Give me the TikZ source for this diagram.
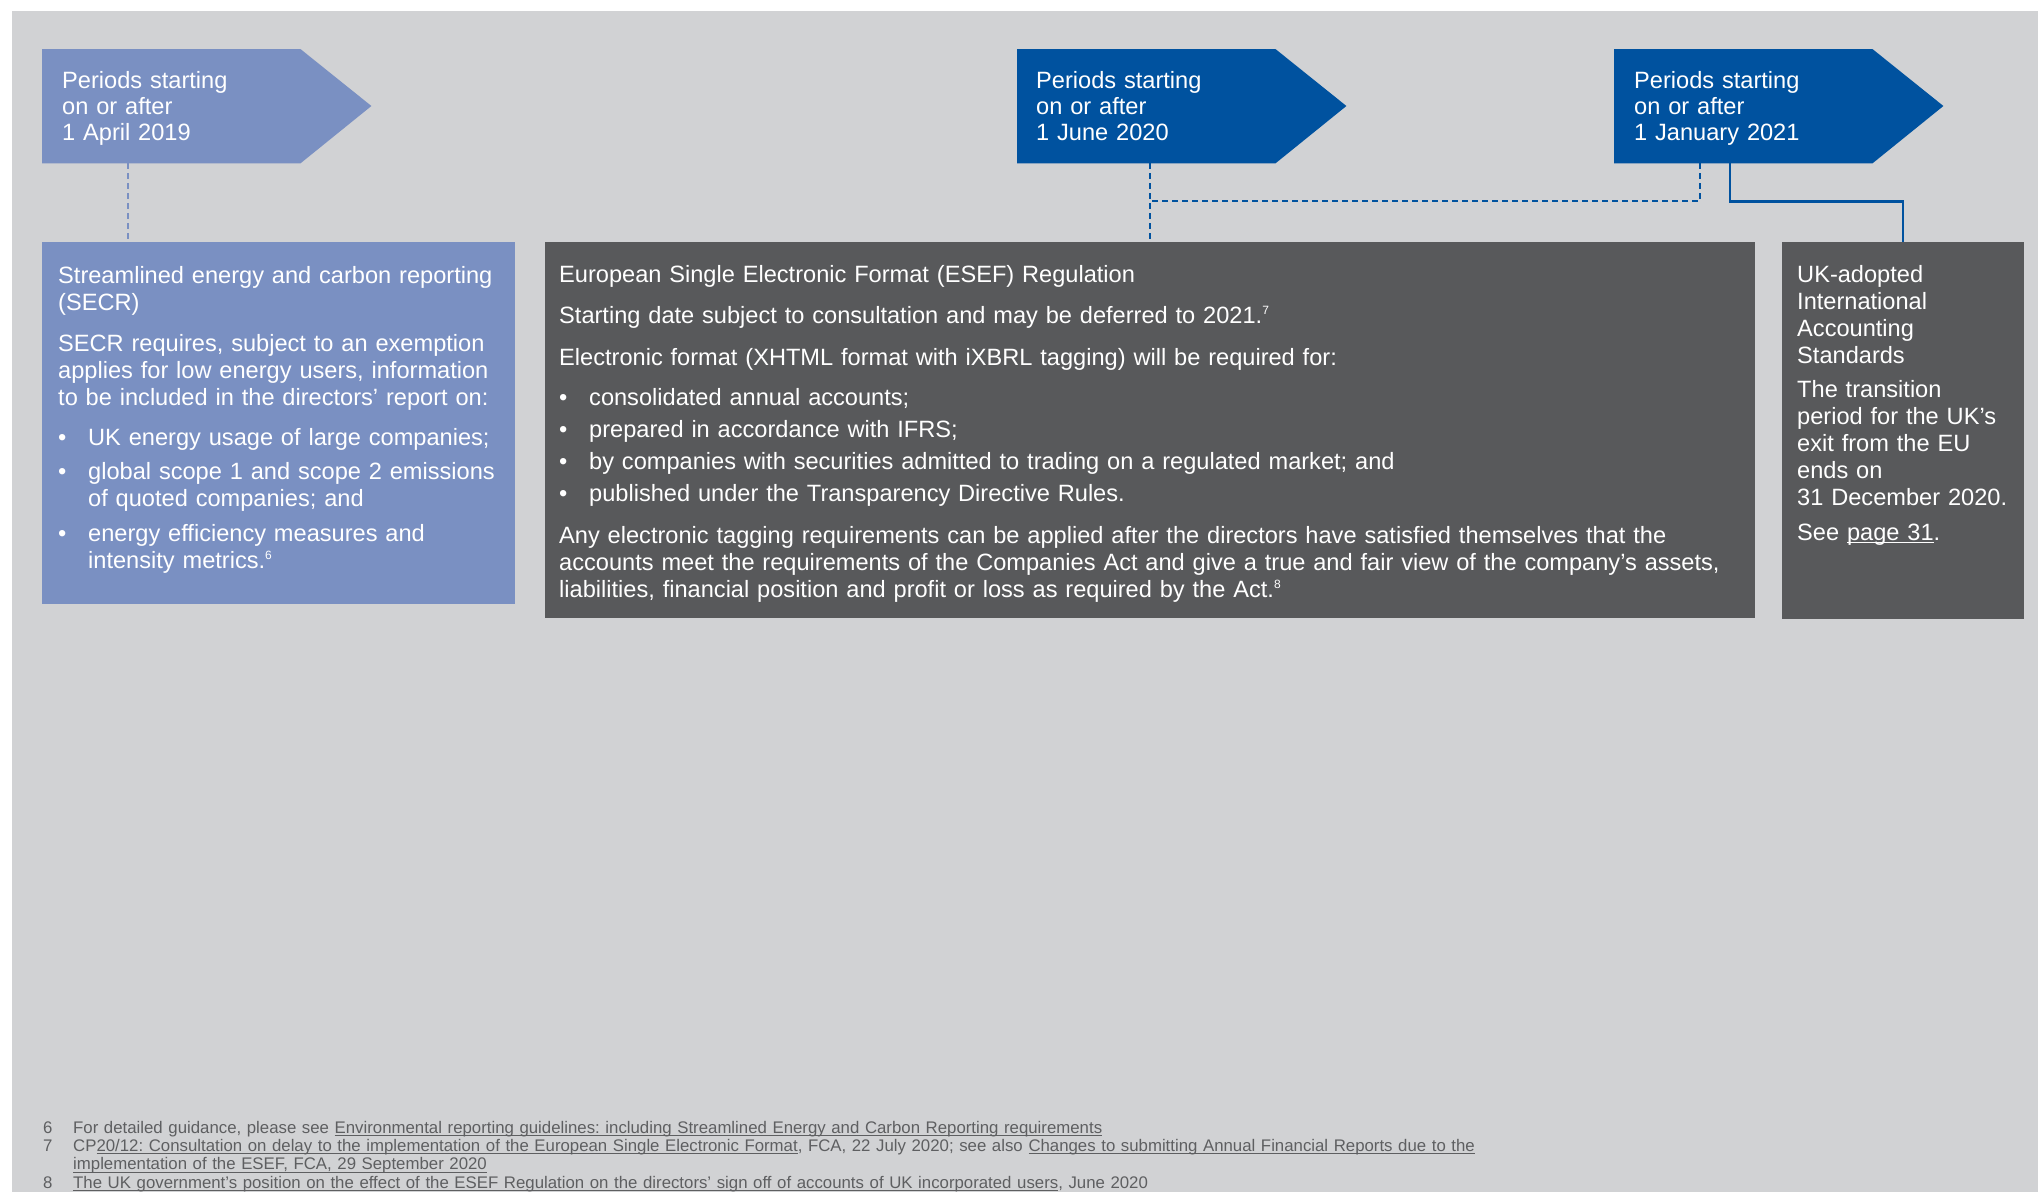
\documentclass[tikz,border=0pt]{standalone}
\usepackage{fontspec}
\setmainfont{Liberation Sans}
\usetikzlibrary{calc}

\definecolor{bggrey}{HTML}{D1D2D4}
\definecolor{softblue}{HTML}{7A90C2}
\definecolor{deepblue}{HTML}{00529F}
\definecolor{slate}{HTML}{58595B}
\definecolor{notegrey}{HTML}{5E5F61}

\newcommand{\undl}[1]{\setbox0\hbox{#1}\rlap{\rule[-3pt]{\wd0}{1.2pt}}\box0}
\newcommand{\bul}[1][5pt]{\par\vspace{#1}\hangindent=30pt\hangafter=1\noindent\makebox[30pt][l]{\textbullet}}
\newcommand{\fnmark}[1]{\raisebox{9pt}{\fontsize{12}{12}\selectfont #1}}
\frenchspacing

\tikzset{
  datetag/.style={anchor=north west, minimum width=258pt, minimum height=114pt, inner sep=0pt},
  infobox/.style={anchor=north west, inner sep=0pt},
  whitetext/.style={anchor=base west, inner sep=0pt, align=left, text=white, font=\fontsize{23.6}{27}\selectfont},
  tagtext/.style={whitetext, font=\fontsize{23.6}{26}\selectfont},
  dashlink/.style={line width=2pt, dash pattern=on 6pt off 4pt},
}

\begin{document}
\begin{tikzpicture}[x=1pt,y=-1pt]

\useasboundingbox (0,0) rectangle (2038,1192);
\fill[bggrey] (12,11) rectangle (2038,1192);

%стрелки с датами
\node[datetag] (apr) at (42,49) {};
\fill[softblue] (apr.north west) -- (apr.north east) -- ++(71,57) -- (apr.south east) -- (apr.south west) -- cycle;
\node[tagtext, text width=230pt] (aprtxt) at (62,88) {Periods starting\\on or after\\1 April 2019};

\node[datetag] (jun) at (1017,49) {};
\fill[deepblue] (jun.north west) -- (jun.north east) -- ++(71,57) -- (jun.south east) -- (jun.south west) -- cycle;
\node[tagtext, text width=230pt] (juntxt) at (1036,88) {Periods starting\\on or after\\1 June 2020};

\node[datetag] (jan) at (1614,49) {};
\fill[deepblue] (jan.north west) -- (jan.north east) -- ++(71,57) -- (jan.south east) -- (jan.south west) -- cycle;
\node[tagtext, text width=230pt] (jantxt) at (1634,88) {Periods starting\\on or after\\1 January 2021};

%блоки
\node[infobox, fill=softblue, minimum width=473pt, minimum height=362pt] (secr) at (42,242) {};
\node[infobox, fill=slate, minimum width=1210pt, minimum height=376pt] (esef) at (545,242) {};
\node[infobox, fill=slate, minimum width=242pt, minimum height=377pt] (uk) at (1782,242) {};

\node[whitetext, text width=450pt] (secrtxt) at (58,283) {Streamlined energy and carbon reporting\\(SECR)\par\vspace{14pt}
SECR requires, subject to an exemption\\applies for low energy users, information\\to be included in the directors’ report on:
\bul[13pt]UK energy usage of large companies;
\bul[7pt]global scope 1 and scope 2 emissions\newline of quoted companies; and
\bul[8pt]energy efficiency measures and\newline intensity metrics.\fnmark{6}\par};

\node[whitetext, text width=1180pt] (eseftxt) at (559,282) {European Single Electronic Format (ESEF) Regulation\par\vspace{14pt}
Starting date subject to consultation and may be deferred to 2021.\fnmark{7}\par\vspace{15pt}
Electronic format (XHTML format with iXBRL tagging) will be required for:
\bul[13pt]consolidated annual accounts;
\bul prepared in accordance with IFRS;
\bul by companies with securities admitted to trading on a regulated market; and
\bul published under the Transparency Directive Rules.
\par\vspace{15pt}\noindent Any electronic tagging requirements can be applied after the directors have satisfied themselves that the\\accounts meet the requirements of the Companies Act and give a true and fair view of the company’s assets,\\liabilities, financial position and profit or loss as required by the Act.\fnmark{8}};

\node[whitetext, text width=225pt] (uktxt) at (1797,282) {UK-adopted\\International\\Accounting\\Standards\par\vspace{7pt}
The transition\\period for the UK’s\\exit from the EU\\ends on\\31 December 2020.\par\vspace{8pt}
See \undl{page 31}.};

%линии
\draw[dashlink, softblue] ($(apr.south west)+(86,0)$) -- ($(secr.north west)+(86,0)$);
\draw[dashlink, deepblue] ($(jun.south west)+(133,0)$) -- ($(esef.north west)+(605,0)$);
\draw[dashlink, deepblue] ($(jan.south west)+(86,0)$) |- ($(jun.south west)+(133,38)$);
\draw[line width=2.5pt, deepblue] ($(jan.south west)+(116,0)$) -- ++(0,38) -| ($(uk.north west)+(121,0)$);

%сноски
\node[anchor=base west, inner sep=0pt, align=left, text width=1600pt, text=notegrey, font=\fontsize{16.8}{18.4}\selectfont] (notes) at (43,1133) {\makebox[30pt][l]{6}For detailed guidance, please see \undl{Environmental reporting guidelines: including Streamlined Energy and Carbon Reporting requirements}\\
\makebox[30pt][l]{7}CP\undl{20/12: Consultation on delay to the implementation of the European Single Electronic Format}, FCA, 22 July 2020; see also \undl{Changes to submitting Annual Financial Reports due to the}\\
\hspace*{30pt}\undl{implementation of the ESEF, FCA, 29 September 2020}\\
\makebox[30pt][l]{8}\undl{The UK government’s position on the effect of the ESEF Regulation on the directors’ sign off of accounts of UK incorporated users}, June 2020};

\end{tikzpicture}
\end{document}
